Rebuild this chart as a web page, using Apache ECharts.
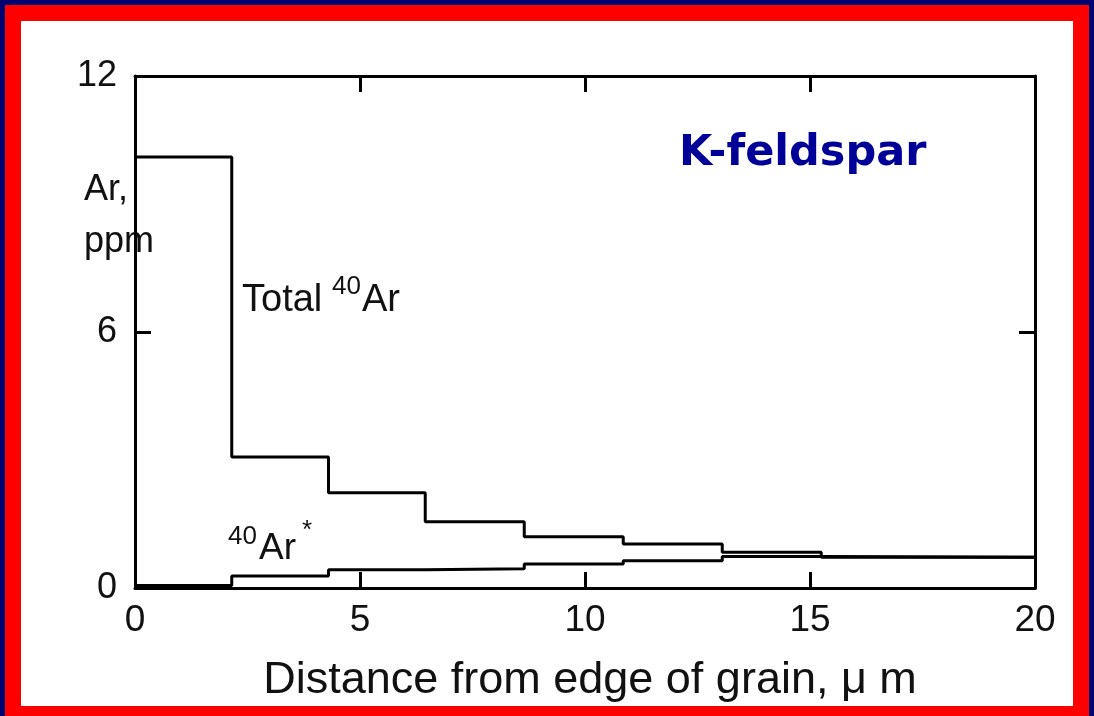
<!DOCTYPE html>
<html>
<head>
<meta charset="utf-8">
<script src="https://cdn.jsdelivr.net/npm/echarts@6/dist/echarts.min.js"></script>
<style>
html,body{margin:0;padding:0;background:#fff;}
#chart{width:1094px;height:716px;}
</style>
</head>
<body>
<div id="chart"></div>
<script>
// Step boundaries (distance from edge of grain, µm)
const distances = [0, 2.15, 4.3, 6.45, 8.65, 10.85, 13.05, 15.25, 20];
// Total 40Ar (ppm) for each step (last value repeated to close the final step)
const totalAr = [10.1, 3.07, 2.23, 1.55, 1.2, 1.03, 0.84, 0.72, 0.72];
// Radiogenic 40Ar* (ppm)
const radiogenicAr = [0.06, 0.28, 0.43, 0.45, 0.56, 0.64, 0.74, 0.72, 0.72];
const xTicks = [0, 5, 10, 15, 20];
const yTicks = [0, 6, 12];

const chart = echarts.init(document.getElementById('chart'));
const FONT = '"Liberation Sans", Arial, sans-serif';
const lineColor = '#000';

function pairs(xs, ys){ return xs.map((x,i)=>[x, ys[i]]); }

const axisCommon = {
  axisLine:{show:true, onZero:false, lineStyle:{color:lineColor, width:3}},
  axisTick:{show:true, inside:true, length:16, lineStyle:{color:lineColor, width:3}},
  splitLine:{show:false}
};

chart.setOption({
  animation:false,
  backgroundColor:'#fff',
  grid:{left:135, right:59, top:76, bottom:128, containLabel:false},
  xAxis:[
    Object.assign({type:'value', position:'bottom', min:0, max:20, interval:5,
      axisLabel:{color:'#111', fontFamily:FONT, fontSize:37, margin:14,
        formatter:v=> xTicks.includes(v) ? String(v) : ''}}, axisCommon),
    Object.assign({type:'value', position:'top', min:0, max:20, interval:5,
      axisLabel:{show:false}}, axisCommon)
  ],
  yAxis:[
    Object.assign({type:'value', position:'left', min:0, max:12, interval:6,
      axisLabel:{color:'#111', fontFamily:FONT, fontSize:36, margin:18,
        formatter:v=> yTicks.includes(v) ? String(v) : ''}}, axisCommon),
    Object.assign({type:'value', position:'right', min:0, max:12, interval:6,
      axisLabel:{show:false}}, axisCommon)
  ],
  series:[
    {name:'Total 40Ar', type:'line', step:'end', xAxisIndex:0, yAxisIndex:0,
     data:pairs(distances, totalAr), symbol:'none',
     lineStyle:{color:lineColor, width:3}},
    {name:'40Ar*', type:'line', step:'end', xAxisIndex:0, yAxisIndex:0,
     data:pairs(distances, radiogenicAr), symbol:'none',
     lineStyle:{color:lineColor, width:3}}
  ],
  graphic:[
    // frame
    {type:'rect', shape:{x:0,y:0,width:1094,height:5}, style:{fill:'#000070'}, z:100},
    {type:'rect', shape:{x:0,y:0,width:5,height:716}, style:{fill:'#000070'}, z:100},
    {type:'rect', shape:{x:1089,y:0,width:5,height:716}, style:{fill:'#000070'}, z:100},
    {type:'rect', shape:{x:5,y:5,width:1084,height:16}, style:{fill:'#ff0000'}, z:101},
    {type:'rect', shape:{x:5,y:5,width:16,height:711}, style:{fill:'#ff0000'}, z:101},
    {type:'rect', shape:{x:1073,y:5,width:16,height:711}, style:{fill:'#ff0000'}, z:101},
    {type:'rect', shape:{x:5,y:706,width:1084,height:10}, style:{fill:'#ff0000'}, z:101},
    // y-axis title
    {type:'text', x:84, y:190, style:{text:'Ar,', font:'36px '+FONT, fill:'#111', align:'left', verticalAlign:'middle'}},
    {type:'text', x:84, y:242, style:{text:'ppm', font:'36px '+FONT, fill:'#111', align:'left', verticalAlign:'middle'}},
    // x-axis title
    {type:'text', x:590, y:681, style:{text:'Distance from edge of grain, \u03bc m', font:'45px '+FONT, fill:'#111', align:'center', verticalAlign:'middle'}},
    // K-feldspar
    {type:'text', x:679, y:154, style:{text:'K-feldspar', font:'bold 43px "DejaVu Sans", Verdana, sans-serif', fill:'#000099', align:'left', verticalAlign:'middle'}},
    // Total 40Ar label
    {type:'text', x:242, y:301, style:{text:'Total', font:'38px '+FONT, fill:'#111', align:'left', verticalAlign:'middle'}},
    {type:'text', x:332, y:287, style:{text:'40', font:'26px '+FONT, fill:'#111', align:'left', verticalAlign:'middle'}},
    {type:'text', x:362, y:301, style:{text:'Ar', font:'38px '+FONT, fill:'#111', align:'left', verticalAlign:'middle'}},
    // 40Ar* label
    {type:'text', x:228, y:537, style:{text:'40', font:'26px '+FONT, fill:'#111', align:'left', verticalAlign:'middle'}},
    {type:'text', x:259, y:549, style:{text:'Ar', font:'37px '+FONT, fill:'#111', align:'left', verticalAlign:'middle'}},
    {type:'text', x:302, y:531, style:{text:'*', font:'26px '+FONT, fill:'#111', align:'left', verticalAlign:'middle'}}
  ]
});
</script>
</body>
</html>
